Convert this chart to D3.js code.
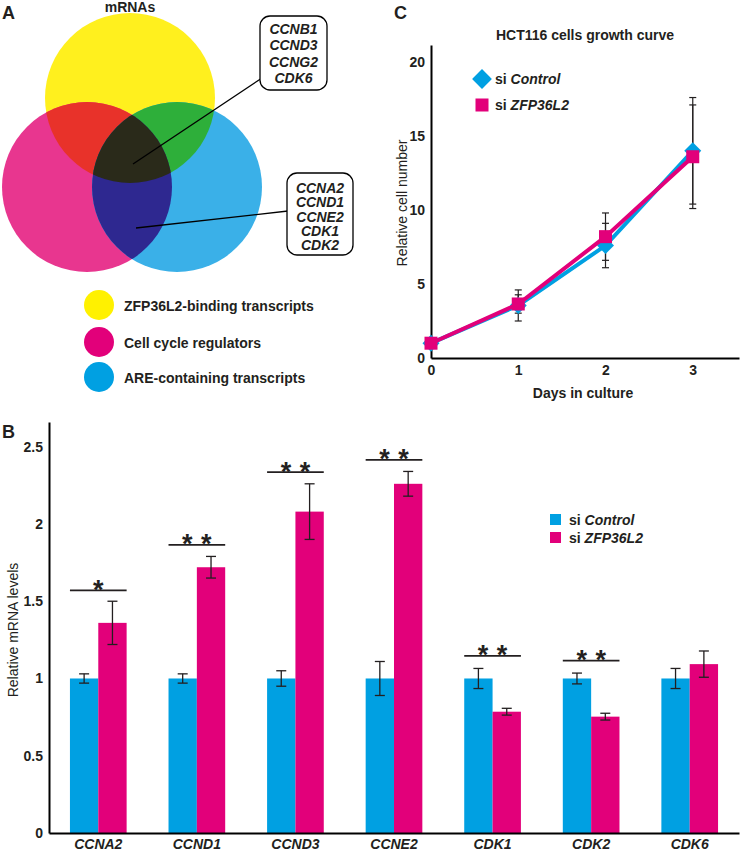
<!DOCTYPE html>
<html>
<head>
<meta charset="utf-8">
<script src="https://cdn.jsdelivr.net/npm/d3@7"></script>
<style>
body { margin: 0; background: #fff; }
svg { display: block; font-family: "Liberation Sans", Arial, sans-serif; }
</style>
</head>
<body>
<svg id="chart" width="740" height="852"></svg>
<script>
// ---------- DATA ----------
// Panel A (Venn)
const vennSets = ["ZFP36L2-binding transcripts", "Cell cycle regulators", "ARE-containing transcripts"];
const tripleGenes = ["CCNB1", "CCND3", "CCNG2", "CDK6"];
const pinkBlueGenes = ["CCNA2", "CCND1", "CCNE2", "CDK1", "CDK2"];

// Panel B (bars)
const genes = ["CCNA2", "CCND1", "CCND3", "CCNE2", "CDK1", "CDK2", "CDK6"];
const controlLevels = [1.0, 1.0, 1.0, 1.0, 1.0, 1.0, 1.0];
const controlErr = [0.03, 0.03, 0.05, 0.11, 0.065, 0.035, 0.065];
const zfpLevels = [1.36, 1.72, 2.08, 2.26, 0.785, 0.753, 1.093];
const zfpErr = [0.14, 0.07, 0.18, 0.08, 0.022, 0.022, 0.085];
const sigStarCount = [1, 2, 2, 2, 2, 2, 0];
const sigLevels = [1.57, 1.865, 2.335, 2.415, 1.146, 1.116, null];
const barTicks = [0, 0.5, 1, 1.5, 2, 2.5];

// Panel C (growth curve)
const days = [0, 1, 2, 3];
const controlGrowth = [1.0, 3.55, 7.6, 14.0];
const controlGrowthErr = [0, 1.05, 1.5, 3.6];
const zfpGrowth = [1.0, 3.65, 8.2, 13.6];
const zfpGrowthErr = [0, 0.62, 1.6, 3.5];
const growthTicks = [0, 5, 10, 15, 20];

// ---------- STYLE ----------
const BLUE = "#00a0e2";
const PINK = "#e2007a";
const INK = "#231f20";
const svg = d3.select("#chart");

// ================= PANEL A =================
const A = svg.append("g");
A.append("text").attr("x", 2).attr("y", 19).attr("font-size", 18).attr("font-weight", "bold").attr("fill", INK).text("A");
A.append("text").attr("x", 130).attr("y", 12).attr("text-anchor", "middle").attr("font-size", 14).attr("font-weight", "bold").attr("fill", INK).text("mRNAs");

const r = 85;
const cY = {cx: 130, cy: 98}, cP = {cx: 87, cy: 187}, cB = {cx: 177, cy: 187};
const defs = svg.append("defs");
defs.append("clipPath").attr("id", "clipP").append("circle").attr("cx", cP.cx).attr("cy", cP.cy).attr("r", r);
defs.append("clipPath").attr("id", "clipB").append("circle").attr("cx", cB.cx).attr("cy", cB.cy).attr("r", r);

A.append("circle").attr("cx", cY.cx).attr("cy", cY.cy).attr("r", r).attr("fill", "#fff01e");
A.append("circle").attr("cx", cP.cx).attr("cy", cP.cy).attr("r", r).attr("fill", "#e8368f");
A.append("circle").attr("cx", cB.cx).attr("cy", cB.cy).attr("r", r).attr("fill", "#3ab0e8");
A.append("g").attr("clip-path", "url(#clipP)").append("circle").attr("cx", cY.cx).attr("cy", cY.cy).attr("r", r).attr("fill", "#e8322a");
A.append("g").attr("clip-path", "url(#clipB)").append("circle").attr("cx", cY.cx).attr("cy", cY.cy).attr("r", r).attr("fill", "#2eaf3a");
A.append("g").attr("clip-path", "url(#clipB)").append("circle").attr("cx", cP.cx).attr("cy", cP.cy).attr("r", r).attr("fill", "#2e2890");
A.append("g").attr("clip-path", "url(#clipB)").append("g").attr("clip-path", "url(#clipP)")
  .append("circle").attr("cx", cY.cx).attr("cy", cY.cy).attr("r", r).attr("fill", "#2a2a1a");

function callout(lines, bx, by, bw, bh, lineFrom, lineTo, lh, y0) {
  A.append("line").attr("x1", lineFrom[0]).attr("y1", lineFrom[1]).attr("x2", lineTo[0]).attr("y2", lineTo[1])
    .attr("stroke", "#000").attr("stroke-width", 1.3);
  A.append("rect").attr("x", bx).attr("y", by).attr("width", bw).attr("height", bh).attr("rx", 10)
    .attr("fill", "#fff").attr("stroke", "#000").attr("stroke-width", 1.3);
  const t = A.append("text").attr("text-anchor", "middle").attr("font-size", 14).attr("font-weight", "bold").attr("font-style", "italic").attr("fill", INK);
  lines.forEach((g, i) => {
    t.append("tspan").attr("x", bx + bw / 2).attr("y", by + y0 + i * lh).text(g);
  });
}
callout(tripleGenes, 260, 16, 67, 74, [133, 164], [262, 78], 16.3, 18);
callout(pinkBlueGenes, 287, 173, 66, 82, [136, 228], [288, 211], 14.3, 20);

const legCol = ["#fff100", PINK, BLUE];
vennSets.forEach((s, i) => {
  const y = [305, 342, 377][i];
  A.append("circle").attr("cx", 99).attr("cy", y).attr("r", 15).attr("fill", legCol[i]);
  A.append("text").attr("x", 124).attr("y", y + 5.5).attr("font-size", 14).attr("font-weight", "bold").attr("fill", INK).text(s);
});

// ================= PANEL C =================
const C = svg.append("g");
C.append("text").attr("x", 394).attr("y", 19).attr("font-size", 18).attr("font-weight", "bold").attr("fill", INK).text("C");
C.append("text").attr("x", 585).attr("y", 40).attr("text-anchor", "middle").attr("font-size", 14).attr("font-weight", "bold").attr("fill", INK).text("HCT116 cells growth curve");

const xC = d3.scaleLinear().domain([0, 3.53]).range([431, 739]);
const yC = d3.scaleLinear().domain([0, 21.15]).range([358, 45]);

const axCx = C.append("g").attr("transform", "translate(0,358)")
  .call(d3.axisBottom(xC).tickValues(days).tickSize(0).tickPadding(7).tickFormat(d3.format("d")));
const axCy = C.append("g").attr("transform", "translate(431,0)")
  .call(d3.axisLeft(yC).tickValues(growthTicks).tickSize(0).tickPadding(6));
[axCx, axCy].forEach(a => {
  a.select(".domain").attr("stroke", "#000").attr("stroke-width", 2);
  a.selectAll("text").attr("font-size", 14).attr("font-weight", "bold").attr("fill", INK).attr("font-family", "Liberation Sans, Arial, sans-serif");
});
C.append("text").attr("x", 583).attr("y", 398).attr("text-anchor", "middle").attr("font-size", 14).attr("font-weight", "bold").attr("fill", INK).text("Days in culture");
C.append("text").attr("transform", "translate(407,203) rotate(-90)").attr("text-anchor", "middle").attr("font-size", 14).attr("fill", INK).text("Relative cell number");

function growthErr(vals, errs) {
  days.forEach((d, i) => {
    if (!errs[i]) return;
    const x = xC(d), y1 = yC(vals[i] - errs[i]), y2 = yC(vals[i] + errs[i]);
    C.append("line").attr("x1", x).attr("x2", x).attr("y1", y1).attr("y2", y2).attr("stroke", INK).attr("stroke-width", 1.2);
    [y1, y2].forEach(y => C.append("line").attr("x1", x - 3.5).attr("x2", x + 3.5).attr("y1", y).attr("y2", y).attr("stroke", INK).attr("stroke-width", 1.2));
  });
}
growthErr(controlGrowth, controlGrowthErr);
growthErr(zfpGrowth, zfpGrowthErr);

const lineC = d3.line().x((d, i) => xC(days[i])).y(d => yC(d));
C.append("path").datum(controlGrowth).attr("d", lineC).attr("fill", "none").attr("stroke", BLUE).attr("stroke-width", 4);
C.selectAll(".dm").data(controlGrowth).join("rect").attr("class", "dm")
  .attr("x", -6).attr("y", -6).attr("width", 12).attr("height", 12)
  .attr("transform", (d, i) => `translate(${xC(days[i])},${yC(d)}) rotate(45)`).attr("fill", BLUE);
C.append("path").datum(zfpGrowth).attr("d", lineC).attr("fill", "none").attr("stroke", PINK).attr("stroke-width", 4);
C.selectAll(".sq").data(zfpGrowth).join("rect").attr("class", "sq")
  .attr("x", (d, i) => xC(days[i]) - 6.5).attr("y", d => yC(d) - 6.5).attr("width", 13).attr("height", 13).attr("fill", PINK);

C.append("rect").attr("x", -7).attr("y", -7).attr("width", 14).attr("height", 14).attr("transform", "translate(482,79) rotate(45)").attr("fill", BLUE);
C.append("rect").attr("x", 475.5).attr("y", 98.5).attr("width", 13).attr("height", 13).attr("fill", PINK);
const lc1 = C.append("text").attr("x", 495).attr("y", 84).attr("font-size", 14).attr("font-weight", "bold").attr("fill", INK);
lc1.append("tspan").text("si ");
lc1.append("tspan").attr("font-style", "italic").text("Control");
const lc2 = C.append("text").attr("x", 495).attr("y", 110).attr("font-size", 14).attr("font-weight", "bold").attr("fill", INK);
lc2.append("tspan").text("si ");
lc2.append("tspan").attr("font-style", "italic").text("ZFP36L2");

// ================= PANEL B =================
const B = svg.append("g");
B.append("text").attr("x", 2).attr("y", 438).attr("font-size", 18).attr("font-weight", "bold").attr("fill", INK).text("B");

const x0 = d3.scaleBand().domain(genes).range([49, 739]).paddingInner(0.425).paddingOuter(0.2125);
const x1 = d3.scaleBand().domain(["control", "zfp"]).range([0, x0.bandwidth()]);
const yB = d3.scaleLinear().domain([0, 2.66]).range([833, 422]);

const series = [
  {key: "control", vals: controlLevels, errs: controlErr, color: BLUE},
  {key: "zfp", vals: zfpLevels, errs: zfpErr, color: PINK}
];
series.forEach(s => {
  B.selectAll(".bar-" + s.key).data(s.vals).join("rect").attr("class", "bar-" + s.key)
    .attr("x", (d, i) => x0(genes[i]) + x1(s.key))
    .attr("y", d => yB(d))
    .attr("width", x1.bandwidth())
    .attr("height", d => yB(0) - yB(d))
    .attr("fill", s.color);
});
series.forEach(s => {
  s.vals.forEach((v, i) => {
    const cx = x0(genes[i]) + x1(s.key) + x1.bandwidth() / 2;
    const y1 = yB(v - s.errs[i]), y2 = yB(v + s.errs[i]);
    B.append("line").attr("x1", cx).attr("x2", cx).attr("y1", y1).attr("y2", y2).attr("stroke", INK).attr("stroke-width", 1.3);
    [y1, y2].forEach(y => B.append("line").attr("x1", cx - 5).attr("x2", cx + 5).attr("y1", y).attr("y2", y).attr("stroke", INK).attr("stroke-width", 1.3));
  });
});

// significance markers
genes.forEach((g, i) => {
  if (sigLevels[i] == null) return;
  const y = yB(sigLevels[i]);
  const xa = x0(g), xb = x0(g) + x0.bandwidth();
  const mid = (xa + xb) / 2;
  B.append("line").attr("x1", xa).attr("x2", xb).attr("y1", y).attr("y2", y).attr("stroke", INK).attr("stroke-width", 1.8);
  const n = sigStarCount[i];
  for (let k = 0; k < n; k++) {
    const sx = n === 1 ? mid : mid + (k === 0 ? -9.5 : 9.5);
    B.append("text").attr("x", sx).attr("y", y + 8.5).attr("text-anchor", "middle")
      .attr("font-size", 27).attr("font-weight", "bold").attr("fill", INK).text("*");
  }
});

const axBx = B.append("g").attr("transform", "translate(0,833)")
  .call(d3.axisBottom(x0).tickSize(0).tickPadding(6).tickSizeOuter(0));
const axBy = B.append("g").attr("transform", "translate(49,0)")
  .call(d3.axisLeft(yB).tickValues(barTicks).tickSize(0).tickPadding(6).tickFormat(d3.format("")));
[axBx, axBy].forEach(a => {
  a.select(".domain").attr("stroke", "#000").attr("stroke-width", 2);
  a.selectAll("text").attr("font-size", 14).attr("font-weight", "bold").attr("fill", INK).attr("font-family", "Liberation Sans, Arial, sans-serif");
});
axBx.selectAll("text").attr("font-style", "italic");
B.append("text").attr("transform", "translate(18,630) rotate(-90)").attr("text-anchor", "middle").attr("font-size", 14).attr("fill", INK).text("Relative mRNA levels");

series.forEach((s, i) => {
  const y = 514 + i * 18;
  B.append("rect").attr("x", 550).attr("y", y).attr("width", 11).attr("height", 11).attr("fill", s.color);
  const t = B.append("text").attr("x", 569).attr("y", y + 10.5).attr("font-size", 14).attr("font-weight", "bold").attr("fill", INK);
  t.append("tspan").text("si ");
  t.append("tspan").attr("font-style", "italic").text(i === 0 ? "Control" : "ZFP36L2");
});
</script>
</body>
</html>
